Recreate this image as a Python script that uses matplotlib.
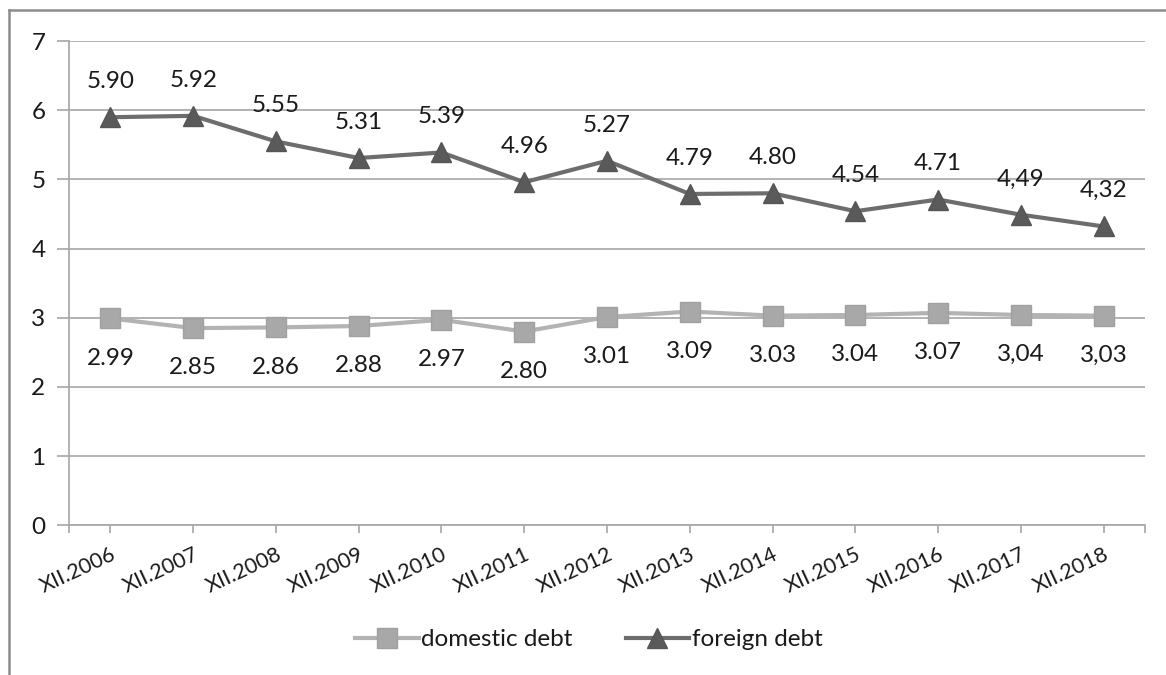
import matplotlib
matplotlib.use("Agg")
import matplotlib.pyplot as plt
from matplotlib.lines import Line2D

plt.rcParams["font.family"] = ["Lato", "DejaVu Sans"]

# data
years = ["XII.2006", "XII.2007", "XII.2008", "XII.2009", "XII.2010", "XII.2011",
         "XII.2012", "XII.2013", "XII.2014", "XII.2015", "XII.2016", "XII.2017",
         "XII.2018"]
domestic = [2.99, 2.85, 2.86, 2.88, 2.97, 2.80, 3.01, 3.09, 3.03, 3.04, 3.07, 3.04, 3.03]
foreign = [5.90, 5.92, 5.55, 5.31, 5.39, 4.96, 5.27, 4.79, 4.80, 4.54, 4.71, 4.49, 4.32]
domestic_labels = ["2.99", "2.85", "2.86", "2.88", "2.97", "2.80", "3.01", "3.09",
                   "3.03", "3.04", "3.07", "3,04", "3,03"]
foreign_labels = ["5.90", "5.92", "5.55", "5.31", "5.39", "4.96", "5.27", "4.79",
                  "4.80", "4.54", "4.71", "4,49", "4,32"]

fig = plt.figure(figsize=(11.66, 6.75), dpi=100)
ax = fig.add_axes([0.0592, 0.222, 0.9228, 0.717])

x = list(range(len(years)))

# grid lines
ax.set_ylim(0, 7)
ax.set_yticks(range(8))
ax.yaxis.grid(True, color="#a6a6a6", linewidth=1.2)
ax.set_axisbelow(True)

ax.plot(x, domestic, color="#b3b3b3", linewidth=3, marker="s", markersize=14,
        markerfacecolor="#a8a8a8", markeredgecolor="#a0a0a0", label="domestic debt")
ax.plot(x, foreign, color="#6d6d6d", linewidth=3, marker="^", markersize=15,
        markerfacecolor="#5a5a5a", markeredgecolor="#555555", label="foreign debt")

for i in x:
    ax.annotate(foreign_labels[i], (i, foreign[i]), xytext=(0, 21),
                textcoords="offset points", ha="center", va="baseline",
                fontsize=17.5, color="#1a1a1a")
    ax.annotate(domestic_labels[i], (i, domestic[i]), xytext=(0, -21),
                textcoords="offset points", ha="center", va="top",
                fontsize=17.5, color="#1a1a1a")

ax.set_xlim(-0.5, len(years) - 0.5)
ax.set_xticks(x)
ax.set_xticks([-0.5, len(years) - 0.5], minor=True)
ax.set_xticklabels(years, rotation=25, ha="right", rotation_mode="anchor",
                   fontsize=15.5, color="#1a1a1a")
ax.tick_params(axis="x", which="both", length=6, width=1.2, color="#a6a6a6", pad=8)
ax.tick_params(axis="y", length=9, width=1.2, color="#a6a6a6", labelsize=17.5,
               labelcolor="#1a1a1a", pad=8)

for side in ["top", "right"]:
    ax.spines[side].set_visible(False)
ax.spines["left"].set_color("#a6a6a6")
ax.spines["bottom"].set_color("#a6a6a6")
ax.spines["left"].set_linewidth(1.2)
ax.spines["bottom"].set_linewidth(1.2)

fig.legend(loc="center", bbox_to_anchor=(0.505, 0.052), ncol=2, frameon=False,
           fontsize=17.5, handlelength=2.6, handletextpad=0.1, columnspacing=2.2,
           labelcolor="#1a1a1a")

# outer frame (only top and left visible in the crop)
fig.add_artist(Line2D([9 / 1166, 9 / 1166], [0, 1 - 10 / 675], transform=fig.transFigure,
                      color="#8c8c8c", linewidth=1.8))
fig.add_artist(Line2D([9 / 1166, 1], [1 - 10 / 675, 1 - 10 / 675], transform=fig.transFigure,
                      color="#8c8c8c", linewidth=1.8))

fig.savefig("out.png", dpi=100)
